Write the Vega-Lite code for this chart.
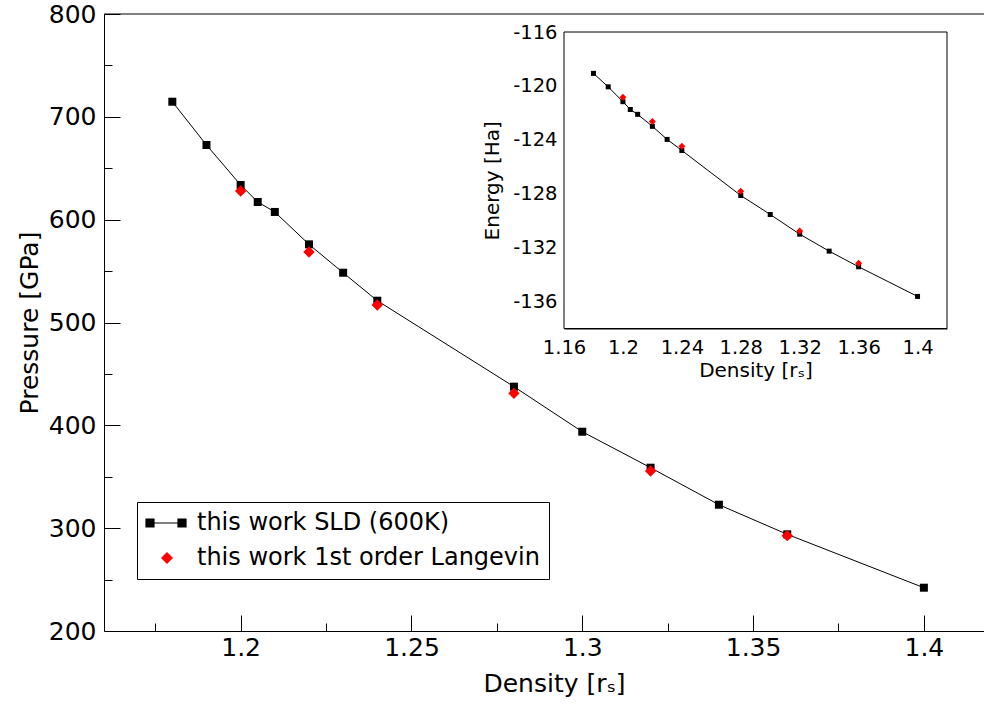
{
  "$schema": "https://vega.github.io/schema/vega-lite/v6.json",
  "width": 880,
  "height": 617,
  "autosize": {"type": "none"},
  "padding": {"left": 104, "top": 14, "right": 0, "bottom": 77},
  "background": "white",
  "config": {
    "font": "DejaVu Sans",
    "view": {"stroke": null},
    "axis": {
      "grid": false,
      "domainColor": "black",
      "domainWidth": 1,
      "tickColor": "black",
      "tickWidth": 1,
      "labelColor": "black",
      "titleColor": "black",
      "titleFontWeight": "normal",
      "labelFont": "DejaVu Sans",
      "titleFont": "DejaVu Sans",
      "labelOverlap": false,
      "labelFlush": false
    },
    "legend": {"labelFont": "DejaVu Sans"}
  },
  "datasets": {
    "main": [
      {"density": 1.18, "pressure": 714.7, "series": "this work SLD (600K)"},
      {"density": 1.19, "pressure": 672.6, "series": "this work SLD (600K)"},
      {"density": 1.2, "pressure": 633.7, "series": "this work SLD (600K)"},
      {"density": 1.205, "pressure": 617.2, "series": "this work SLD (600K)"},
      {"density": 1.21, "pressure": 607.5, "series": "this work SLD (600K)"},
      {"density": 1.22, "pressure": 576.0, "series": "this work SLD (600K)"},
      {"density": 1.23, "pressure": 548.4, "series": "this work SLD (600K)"},
      {"density": 1.24, "pressure": 521.2, "series": "this work SLD (600K)"},
      {"density": 1.28, "pressure": 437.6, "series": "this work SLD (600K)"},
      {"density": 1.3, "pressure": 393.8, "series": "this work SLD (600K)"},
      {"density": 1.32, "pressure": 358.8, "series": "this work SLD (600K)"},
      {"density": 1.34, "pressure": 322.8, "series": "this work SLD (600K)"},
      {"density": 1.36, "pressure": 294.0, "series": "this work SLD (600K)"},
      {"density": 1.4, "pressure": 242.1, "series": "this work SLD (600K)"},
      {"density": 1.2, "pressure": 627.9, "series": "this work 1st order Langevin"},
      {"density": 1.22, "pressure": 568.6, "series": "this work 1st order Langevin"},
      {"density": 1.24, "pressure": 517.0, "series": "this work 1st order Langevin"},
      {"density": 1.28, "pressure": 431.1, "series": "this work 1st order Langevin"},
      {"density": 1.32, "pressure": 355.6, "series": "this work 1st order Langevin"},
      {"density": 1.36, "pressure": 292.7, "series": "this work 1st order Langevin"}
    ],
    "inset": [
      {"density": 1.18, "energy": -119.07, "series": "this work SLD (600K)"},
      {"density": 1.19, "energy": -120.07, "series": "this work SLD (600K)"},
      {"density": 1.2, "energy": -121.17, "series": "this work SLD (600K)"},
      {"density": 1.205, "energy": -121.75, "series": "this work SLD (600K)"},
      {"density": 1.21, "energy": -122.11, "series": "this work SLD (600K)"},
      {"density": 1.22, "energy": -123.0, "series": "this work SLD (600K)"},
      {"density": 1.23, "energy": -123.97, "series": "this work SLD (600K)"},
      {"density": 1.24, "energy": -124.79, "series": "this work SLD (600K)"},
      {"density": 1.28, "energy": -128.13, "series": "this work SLD (600K)"},
      {"density": 1.3, "energy": -129.54, "series": "this work SLD (600K)"},
      {"density": 1.32, "energy": -131.0, "series": "this work SLD (600K)"},
      {"density": 1.34, "energy": -132.26, "series": "this work SLD (600K)"},
      {"density": 1.36, "energy": -133.42, "series": "this work SLD (600K)"},
      {"density": 1.4, "energy": -135.62, "series": "this work SLD (600K)"},
      {"density": 1.2, "energy": -120.85, "series": "this work 1st order Langevin"},
      {"density": 1.22, "energy": -122.65, "series": "this work 1st order Langevin"},
      {"density": 1.24, "energy": -124.48, "series": "this work 1st order Langevin"},
      {"density": 1.28, "energy": -127.82, "series": "this work 1st order Langevin"},
      {"density": 1.32, "energy": -130.77, "series": "this work 1st order Langevin"},
      {"density": 1.36, "energy": -133.15, "series": "this work 1st order Langevin"}
    ]
  },
  "layer": [
    {
      "resolve": {"axis": {"x": "independent", "y": "independent"}},
      "layer": [
        {
          "data": {"values": [{}]},
          "mark": {"type": "rule", "color": "black", "strokeWidth": 1},
          "encoding": {
            "y": {"datum": 800, "type": "quantitative", "scale": {"domain": [200, 800], "nice": false, "zero": false}, "axis": null}
          }
        },
        {
          "data": {"name": "main"},
          "transform": [{"filter": "datum.series === 'this work SLD (600K)'"}],
          "mark": {"type": "line", "color": "black", "strokeWidth": 1},
          "encoding": {
            "x": {
              "field": "density", "type": "quantitative",
              "scale": {"domain": [1.16, 1.4176], "nice": false, "zero": false},
              "axis": {
                "orient": "bottom", "values": [1.2, 1.25, 1.3, 1.35, 1.4], "format": ".2~f",
                "tickSize": -16, "labelPadding": 20, "labelFontSize": 25,
                "title": "Density [rₛ]", "titleFontSize": 25, "titlePadding": 11, "titleX": 450
              }
            },
            "y": {
              "field": "pressure", "type": "quantitative",
              "scale": {"domain": [200, 800], "nice": false, "zero": false},
              "axis": {
                "orient": "left", "values": [200, 300, 400, 500, 600, 700, 800], "format": "d",
                "tickSize": -16, "labelPadding": 24, "labelFontSize": 25,
                "title": "Pressure [GPa]", "titleFontSize": 25, "titlePadding": 6
              }
            }
          }
        },
        {
          "data": {"name": "main"},
          "transform": [{"filter": "datum.series === 'this work SLD (600K)'"}],
          "mark": {"type": "point", "shape": "square", "filled": true, "opacity": 1, "size": 64},
          "encoding": {
            "x": {
              "field": "density", "type": "quantitative",
              "scale": {"domain": [1.16, 1.4176], "nice": false, "zero": false},
              "axis": {
                "orient": "bottom", "values": [1.175, 1.225, 1.275, 1.325, 1.375],
                "tickSize": -8, "labels": false, "domain": false, "title": null
              }
            },
            "y": {
              "field": "pressure", "type": "quantitative",
              "scale": {"domain": [200, 800], "nice": false, "zero": false},
              "axis": {
                "orient": "left", "values": [250, 350, 450, 550, 650, 750],
                "tickSize": -8, "labels": false, "domain": false, "title": null
              }
            },
            "color": {
              "field": "series", "type": "nominal",
              "scale": {"domain": ["this work SLD (600K)", "this work 1st order Langevin"], "range": ["black", "#ff0000"]},
              "legend": {
                "orient": "none", "legendX": 33, "legendY": 488, "title": null,
                "direction": "vertical",
                "fillColor": "white", "strokeColor": "black",
                "padding": 9, "cornerRadius": 0,
                "labelFontSize": 24, "labelColor": "black", "labelOffset": 27, "labelLimit": 0,
                "rowPadding": 11, "symbolSize": 484, "symbolOpacity": 1,
                "encoding": {
                  "symbols": {
                    "shape": {
                      "condition": {"test": "datum.value === 'this work SLD (600K)'", "value": "M-1.09,-0.364H-0.364V0.364H-1.09ZM1.818,-0.364H2.545V0.364H1.818ZM-0.364,0H1.818"},
                      "value": "M0.273,0L0.818,-0.545L1.364,0L0.818,0.545Z"
                    },
                    "stroke": {
                      "condition": {"test": "datum.value === 'this work SLD (600K)'", "value": "black"},
                      "value": "transparent"
                    },
                    "strokeWidth": {"value": 1.2}
                  }
                }
              }
            }
          }
        },
        {
          "data": {"name": "main"},
          "transform": [{"filter": "datum.series === 'this work 1st order Langevin'"}],
          "mark": {"type": "point", "shape": "diamond", "filled": true, "opacity": 1, "size": 130},
          "encoding": {
            "x": {"field": "density", "type": "quantitative", "scale": {"domain": [1.16, 1.4176], "nice": false, "zero": false}, "axis": null},
            "y": {"field": "pressure", "type": "quantitative", "scale": {"domain": [200, 800], "nice": false, "zero": false}, "axis": null},
            "color": {
              "field": "series", "type": "nominal",
              "scale": {"domain": ["this work SLD (600K)", "this work 1st order Langevin"], "range": ["black", "#ff0000"]},
              "legend": {
                "orient": "none", "legendX": 33, "legendY": 488, "title": null,
                "direction": "vertical",
                "fillColor": "white", "strokeColor": "black",
                "padding": 9, "cornerRadius": 0,
                "labelFontSize": 24, "labelColor": "black", "labelOffset": 27, "labelLimit": 0,
                "rowPadding": 11, "symbolSize": 484, "symbolOpacity": 1,
                "encoding": {
                  "symbols": {
                    "shape": {
                      "condition": {"test": "datum.value === 'this work SLD (600K)'", "value": "M-1.09,-0.364H-0.364V0.364H-1.09ZM1.818,-0.364H2.545V0.364H1.818ZM-0.364,0H1.818"},
                      "value": "M0.273,0L0.818,-0.545L1.364,0L0.818,0.545Z"
                    },
                    "stroke": {
                      "condition": {"test": "datum.value === 'this work SLD (600K)'", "value": "black"},
                      "value": "transparent"
                    },
                    "strokeWidth": {"value": 1.2}
                  }
                }
              }
            }
          }
        }
      ]
    },
    {
      "resolve": {"axis": {"x": "independent", "y": "independent"}},
      "layer": [
        {
          "data": {"values": [{}]},
          "mark": {"type": "rect", "fill": "white", "stroke": "black", "strokeWidth": 1},
          "encoding": {
            "x": {"datum": 1.16, "type": "quantitative", "scale": {"domain": [1.16, 1.42], "range": [460, 843], "nice": false, "zero": false}, "axis": null},
            "x2": {"datum": 1.42},
            "y": {"datum": -138, "type": "quantitative", "scale": {"domain": [-138, -116], "range": [314.5, 18], "nice": false, "zero": false}, "axis": null},
            "y2": {"datum": -116}
          }
        },
        {
          "data": {"name": "inset"},
          "transform": [{"filter": "datum.series === 'this work SLD (600K)'"}],
          "mark": {"type": "line", "color": "black", "strokeWidth": 1},
          "encoding": {
            "x": {
              "field": "density", "type": "quantitative",
              "scale": {"domain": [1.16, 1.42], "range": [460, 843], "nice": false, "zero": false},
              "axis": {
                "orient": "bottom", "offset": -302.5,
                "values": [1.16, 1.2, 1.24, 1.28, 1.32, 1.36, 1.4], "format": ".2~f",
                "tickSize": -16, "labelPadding": 26, "labelFontSize": 19.5,
                "title": "Density [rₛ]", "titleFontSize": 20, "titlePadding": 3
              }
            },
            "y": {
              "field": "energy", "type": "quantitative",
              "scale": {"domain": [-138, -116], "range": [314.5, 18], "nice": false, "zero": false},
              "axis": {
                "orient": "left", "offset": -460,
                "values": [-136, -132, -128, -124, -120, -116],
                "labelExpr": "'-' + abs(datum.value)",
                "tickSize": -16, "labelPadding": 23, "labelFontSize": 19.5,
                "title": "Energy [Ha]", "titleFontSize": 20, "titlePadding": 10
              }
            }
          }
        },
        {
          "data": {"name": "inset"},
          "transform": [{"filter": "datum.series === 'this work SLD (600K)'"}],
          "mark": {"type": "point", "shape": "square", "filled": true, "opacity": 1, "color": "black", "size": 25},
          "encoding": {
            "x": {
              "field": "density", "type": "quantitative",
              "scale": {"domain": [1.16, 1.42], "range": [460, 843], "nice": false, "zero": false},
              "axis": {
                "orient": "bottom", "offset": -302.5,
                "values": [1.18, 1.22, 1.26, 1.3, 1.34, 1.38],
                "tickSize": -8, "labels": false, "domain": false, "title": null
              }
            },
            "y": {
              "field": "energy", "type": "quantitative",
              "scale": {"domain": [-138, -116], "range": [314.5, 18], "nice": false, "zero": false},
              "axis": {
                "orient": "left", "offset": -460,
                "values": [-134, -130, -126, -122, -118],
                "tickSize": -8, "labels": false, "domain": false, "title": null
              }
            }
          }
        },
        {
          "data": {"name": "inset"},
          "transform": [{"filter": "datum.series === 'this work 1st order Langevin'"}],
          "mark": {"type": "point", "shape": "diamond", "filled": true, "opacity": 1, "color": "#ff0000", "size": 49},
          "encoding": {
            "x": {"field": "density", "type": "quantitative", "scale": {"domain": [1.16, 1.42], "range": [460, 843], "nice": false, "zero": false}, "axis": null},
            "y": {"field": "energy", "type": "quantitative", "scale": {"domain": [-138, -116], "range": [314.5, 18], "nice": false, "zero": false}, "axis": null}
          }
        }
      ]
    }
  ],
  "resolve": {"scale": {"x": "independent", "y": "independent"}, "axis": {"x": "independent", "y": "independent"}}
}
